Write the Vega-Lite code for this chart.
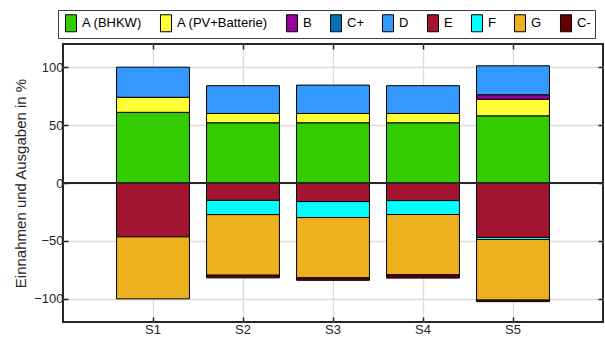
{
  "$schema": "https://vega.github.io/schema/vega-lite/v6.json",
  "width": 540,
  "height": 278,
  "autosize": "none",
  "padding": {"left": 63, "top": 44, "right": 2, "bottom": 21},
  "data": {
    "values": [
      {"s": "S1", "k": "A (BHKW)", "i": 1, "v": 61},
      {"s": "S1", "k": "A (PV+Batterie)", "i": 2, "v": 13},
      {"s": "S1", "k": "D", "i": 5, "v": 26},
      {"s": "S1", "k": "E", "i": 6, "v": -46.5},
      {"s": "S1", "k": "G", "i": 8, "v": -53.5},
      {"s": "S2", "k": "A (BHKW)", "i": 1, "v": 52},
      {"s": "S2", "k": "A (PV+Batterie)", "i": 2, "v": 8},
      {"s": "S2", "k": "D", "i": 5, "v": 24},
      {"s": "S2", "k": "E", "i": 6, "v": -15},
      {"s": "S2", "k": "F", "i": 7, "v": -12.3},
      {"s": "S2", "k": "G", "i": 8, "v": -52.3},
      {"s": "S2", "k": "C-", "i": 9, "v": -2.3},
      {"s": "S3", "k": "A (BHKW)", "i": 1, "v": 52},
      {"s": "S3", "k": "A (PV+Batterie)", "i": 2, "v": 8},
      {"s": "S3", "k": "D", "i": 5, "v": 24.5},
      {"s": "S3", "k": "E", "i": 6, "v": -16},
      {"s": "S3", "k": "F", "i": 7, "v": -13.8},
      {"s": "S3", "k": "G", "i": 8, "v": -52.1},
      {"s": "S3", "k": "C-", "i": 9, "v": -2.1},
      {"s": "S4", "k": "A (BHKW)", "i": 1, "v": 52},
      {"s": "S4", "k": "A (PV+Batterie)", "i": 2, "v": 8},
      {"s": "S4", "k": "D", "i": 5, "v": 24},
      {"s": "S4", "k": "E", "i": 6, "v": -15.2},
      {"s": "S4", "k": "F", "i": 7, "v": -12},
      {"s": "S4", "k": "G", "i": 8, "v": -52.1},
      {"s": "S4", "k": "C-", "i": 9, "v": -2.8},
      {"s": "S5", "k": "A (BHKW)", "i": 1, "v": 58},
      {"s": "S5", "k": "A (PV+Batterie)", "i": 2, "v": 14.3},
      {"s": "S5", "k": "B", "i": 3, "v": 3.9},
      {"s": "S5", "k": "D", "i": 5, "v": 25},
      {"s": "S5", "k": "E", "i": 6, "v": -47},
      {"s": "S5", "k": "F", "i": 7, "v": -1.8},
      {"s": "S5", "k": "G", "i": 8, "v": -52.3},
      {"s": "S5", "k": "C-", "i": 9, "v": -1.3}
    ]
  },
  "layer": [
    {
      "mark": {"type": "bar", "stroke": "black", "strokeWidth": 1},
      "encoding": {
        "x": {
          "field": "s", "type": "nominal",
          "scale": {"paddingInner": 0.19, "paddingOuter": 0.595},
          "axis": {"orient": "bottom", "title": null, "labelAngle": 0, "grid": true, "tickSize": -5, "labelPadding": 6}
        },
        "y": {
          "field": "v", "type": "quantitative", "stack": "zero",
          "scale": {"domain": [-120, 120], "nice": false, "zero": false},
          "axis": {"values": [-100, -50, 0, 50, 100], "title": "Einnahmen und Ausgaben in %", "grid": true, "tickSize": -5, "labelPadding": 5, "titlePadding": 5}
        },
        "fill": {
          "field": "k", "type": "nominal",
          "scale": {
            "domain": ["A (BHKW)", "A (PV+Batterie)", "B", "C+", "D", "E", "F", "G", "C-"],
            "range": ["#33cc00", "#ffff33", "#990099", "#0072bd", "#3399ff", "#a2142f", "#00ffff", "#edb120", "#660000"]
          },
          "legend": {
            "orient": "none", "legendX": -5, "legendY": -34,
            "direction": "horizontal", "columns": 9, "title": null,
            "symbolType": "M-0.65,-1H0.65V1H-0.65Z", "symbolSize": 289,
            "symbolStrokeColor": "black", "symbolStrokeWidth": 1, "symbolOpacity": 1,
            "labelFontSize": 13, "labelOffset": 2, "columnPadding": 15, "padding": 4,
            "strokeColor": "#404040", "fillColor": "white", "labelColor": "black"
          }
        },
        "order": {"field": "i", "type": "quantitative"}
      }
    },
    {
      "data": {"values": [{"z": 0}]},
      "mark": {"type": "rule", "color": "#262626", "strokeWidth": 2},
      "encoding": {
        "y": {
          "field": "z", "type": "quantitative",
          "axis": {"orient": "right", "labels": false, "title": null, "grid": false, "values": [-100, -50, 0, 50, 100], "tickSize": -5}
        }
      }
    },
    {
      "mark": {"type": "bar", "opacity": 0},
      "encoding": {
        "x": {
          "field": "s", "type": "nominal",
          "axis": {"orient": "top", "labels": false, "title": null, "grid": false, "tickSize": -5}
        }
      }
    }
  ],
  "resolve": {"axis": {"x": "independent", "y": "independent"}},
  "config": {
    "font": "Liberation Sans",
    "view": {"stroke": "#262626", "strokeWidth": 2},
    "axis": {
      "domain": false,
      "labelFont": "Liberation Sans", "labelFontSize": 13, "labelColor": "#262626",
      "titleFont": "Liberation Sans", "titleFontSize": 15, "titleFontWeight": "normal", "titleColor": "#262626",
      "tickColor": "#262626", "tickWidth": 1.5,
      "gridColor": "#dcdcdc", "gridWidth": 1.3
    },
    "legend": {"labelFont": "Liberation Sans"}
  }
}
